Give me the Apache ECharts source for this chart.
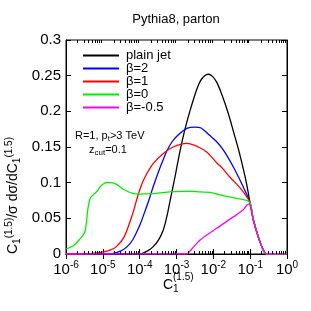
<!DOCTYPE html>
<html><head><meta charset="utf-8">
<script src="https://cdn.jsdelivr.net/npm/echarts@6/dist/echarts.min.js"></script>
<style>html,body{margin:0;padding:0;background:#fff}#c{width:311px;height:311px}</style>
</head><body><div id="c"></div>
<script>
var seriesNames = ['plain jet', '\u03b2=2', '\u03b2=1', '\u03b2=0', '\u03b2=-0.5'];
var seriesColors = ['#000000', '#0000ff', '#ff0000', '#00ee00', '#ff00ff'];
var xTicks = [1e-6, 1e-5, 1e-4, 1e-3, 1e-2, 1e-1, 1];
var yTicks = [0, 0.05, 0.1, 0.15, 0.2, 0.25, 0.3];

var plainJet = [[1e-6,0],[1e-4,0],[1.6e-4,0.004],[2.3e-4,0.010],[3.2e-4,0.019],[4.4e-4,0.034],[5.5e-4,0.053],[6.6e-4,0.073],[9.1e-4,0.108],[1.24e-3,0.144],[1.7e-3,0.175],[2.3e-3,0.200],[3.5e-3,0.230],[4.5e-3,0.243],[5.8e-3,0.250],[7.3e-3,0.252],[9.5e-3,0.249],[1.23e-2,0.241],[1.5e-2,0.231],[2.08e-2,0.211],[2.8e-2,0.190],[3.5e-2,0.172],[4.8e-2,0.147],[6.6e-2,0.118],[8.1e-2,0.097],[0.099,0.072],[0.122,0.048],[0.166,0.024],[0.227,0.0056],[0.28,0],[1,0]];
var beta2 = [[1e-6,0],[1.5e-5,0],[3e-5,0.004],[4.5e-5,0.010],[6.5e-5,0.020],[1.02e-4,0.041],[1.35e-4,0.058],[1.74e-4,0.074],[2.35e-4,0.095],[3.5e-4,0.120],[4.5e-4,0.134],[5.4e-4,0.144],[7.5e-4,0.157],[1.02e-3,0.165],[1.9e-3,0.176],[3.2e-3,0.178],[4.5e-3,0.177],[8.1e-3,0.166],[1.2e-2,0.158],[1.86e-2,0.146],[3.5e-2,0.122],[6.5e-2,0.094],[0.099,0.072],[0.122,0.048],[0.166,0.024],[0.227,0.0056],[0.28,0],[1,0]];
var beta1 = [[1e-6,0],[3e-6,0],[8e-6,0.002],[1.5e-5,0.005],[2.3e-5,0.010],[3.8e-5,0.024],[6.5e-5,0.057],[8.3e-5,0.076],[1.05e-4,0.093],[1.4e-4,0.108],[2.35e-4,0.127],[4.4e-4,0.141],[8.1e-4,0.150],[1.9e-3,0.155],[3.9e-3,0.150],[6.6e-3,0.143],[1.23e-2,0.128],[1.86e-2,0.119],[2.8e-2,0.108],[5.9e-2,0.090],[0.099,0.072],[0.122,0.048],[0.166,0.024],[0.227,0.0056],[0.28,0],[1,0]];
var beta0 = [[1e-6,0.007],[1.6e-6,0.012],[2.3e-6,0.020],[3.2e-6,0.030],[3.6e-6,0.045],[3.9e-6,0.062],[4.4e-6,0.076],[4.8e-6,0.080],[5.8e-6,0.084],[7e-6,0.088],[9e-6,0.096],[1.34e-5,0.1005],[1.7e-5,0.100],[2.3e-5,0.098],[3.8e-5,0.090],[6.4e-5,0.085],[1.02e-4,0.084],[2e-4,0.0845],[4e-4,0.086],[8.1e-4,0.0874],[2.3e-3,0.088],[4.4e-3,0.087],[8.1e-3,0.0865],[1.5e-2,0.083],[4.3e-2,0.078],[7.2e-2,0.0757],[0.099,0.072],[0.122,0.048],[0.166,0.024],[0.227,0.0056],[0.28,0],[1,0]];
var betaM05 = [[1e-6,0],[1.9e-3,0],[2.5e-3,0.006],[4.4e-3,0.0196],[1.23e-2,0.036],[3.5e-2,0.052],[6.5e-2,0.062],[0.089,0.070],[0.099,0.069],[0.122,0.048],[0.166,0.024],[0.227,0.0056],[0.28,0],[1,0]];

var allData = [plainJet, beta2, beta1, beta0, betaM05];

// minor tick positions of the log axis (2..9 x 10^n)
var minorTickValues = [];
for (var n = -6; n < 0; n++) {
  for (var k = 2; k <= 9; k++) minorTickValues.push(k * Math.pow(10, n));
}

var FONT = 'Liberation Sans';
var chart = echarts.init(document.getElementById('c'), null, {renderer: 'canvas'});

function expLabel(v) {
  var e = Math.round(Math.log(v) / Math.LN10);
  return '10{s|' + e + '}';
}

var series = allData.map(function (d, i) {
  return {
    name: seriesNames[i], type: 'line', data: d, showSymbol: false, symbol: 'none',
    smooth: 0.3, xAxisIndex: 0, yAxisIndex: 0, clip: true,
    lineStyle: {color: seriesColors[i], width: 1.3}, itemStyle: {color: seriesColors[i]},
    z: 2 + i
  };
});

series.push({
  type: 'custom', name: 'minorTicks', silent: true, clip: false, z: 20,
  xAxisIndex: 0, yAxisIndex: 0,
  data: minorTickValues.map(function (v) { return [v, yTicks[0]]; }),
  renderItem: function (params, api) {
    var v = api.value(0);
    var pb = api.coord([v, yTicks[0]]);
    var pt = api.coord([v, yTicks[yTicks.length - 1]]);
    var x = Math.round(pb[0]) + 0.5;
    return {type: 'group', children: [
      {type: 'line', shape: {x1: x, y1: pb[1], x2: x, y2: pb[1] - 3}, style: {stroke: '#000', lineWidth: 1}},
      {type: 'line', shape: {x1: x, y1: pt[1], x2: x, y2: pt[1] + 3}, style: {stroke: '#000', lineWidth: 1}}
    ]};
  }
});

var gridL = 66, gridT = 40, gridR = 24, gridB = 57;

var option = {
  animation: false,
  backgroundColor: '#fff',
  textStyle: {fontFamily: FONT},
  legend: {
    orient: 'vertical', left: 78, top: 44, itemWidth: 36, itemHeight: 2, itemGap: 0,
    icon: 'rect', data: seriesNames,
    textStyle: {fontFamily: FONT, fontSize: 13, color: '#000', lineHeight: 13, padding: [0,0,0,2]}
  },
  grid: {left: gridL, top: gridT, right: gridR, bottom: gridB, show: true, borderColor: '#000', borderWidth: 1, containLabel: false},
  xAxis: [{
    type: 'log', logBase: 10, min: xTicks[0], max: xTicks[xTicks.length - 1], position: 'bottom',
    axisLine: {show: true, lineStyle: {color: '#000', width: 1}},
    axisTick: {show: true, inside: true, length: 5, lineStyle: {color: '#000'}},
    minorTick: {show: false},
    splitLine: {show: false},
    axisLabel: {formatter: expLabel, color: '#000', fontFamily: FONT, fontSize: 15, margin: 6,
      rich: {s: {fontSize: 10, fontFamily: FONT, padding: [0, 0, 9, 0], color: '#000'}}}
  }, {
    type: 'log', logBase: 10, min: xTicks[0], max: xTicks[xTicks.length - 1], position: 'top',
    axisLine: {show: true, lineStyle: {color: '#000'}},
    axisTick: {show: true, inside: true, length: 5, lineStyle: {color: '#000'}},
    axisLabel: {show: false}, splitLine: {show: false}
  }],
  yAxis: [{
    type: 'value', min: yTicks[0], max: yTicks[yTicks.length - 1], interval: 0.05, position: 'left',
    axisLine: {show: true, lineStyle: {color: '#000'}},
    axisTick: {show: true, inside: true, length: 5, lineStyle: {color: '#000'}},
    splitLine: {show: false},
    axisLabel: {color: '#000', fontFamily: FONT, fontSize: 15, margin: 5}
  }, {
    type: 'value', min: yTicks[0], max: yTicks[yTicks.length - 1], interval: 0.05, position: 'right',
    axisLine: {show: true, lineStyle: {color: '#000'}},
    axisTick: {show: true, inside: true, length: 5, lineStyle: {color: '#000'}},
    splitLine: {show: false}, axisLabel: {show: false}
  }],
  graphic: [
    {type: 'text', x: 176, y: 13, style: {
      text: 'Pythia8, parton', font: '13px ' + FONT, fill: '#000', textAlign: 'center'}},
    {type: 'text', left: 75, top: 130, style: {
      text: 'R=1, p{sub|t}>3 TeV', font: '11px ' + FONT, fill: '#000',
      rich: {sub: {fontSize: 8, fontFamily: FONT, padding: [6, 0, 0, 0], fill: '#000'}}}},
    {type: 'text', left: 89, top: 144, style: {
      text: 'z{sub|cut}=0.1', font: '11px ' + FONT, fill: '#000',
      rich: {sub: {fontSize: 8, fontFamily: FONT, padding: [6, 0, 0, 0], fill: '#000'}}}},
    {type: 'text', x: 163, y: 276, style: {
      text: 'C{sub|1}', font: '14px ' + FONT, fill: '#000',
      rich: {sub: {fontSize: 10, fontFamily: FONT, padding: [8, 0, 0, 0], fill: '#000'}}}},
    {type: 'text', x: 173, y: 272, style: {
      text: '(1.5)', font: '10px ' + FONT, fill: '#000'}},
    {type: 'text', x: 4, y: 254, rotation: Math.PI / 2, style: {
      text: 'C{sub|1}{sup|(1.5)}/\u03c3 d\u03c3/dC{sub|1}{sup|(1.5)}', font: '14px ' + FONT, fill: '#000',
      rich: {sub: {fontSize: 10, fontFamily: FONT, padding: [8, 0, 0, 0], fill: '#000'},
             sup: {fontSize: 10, fontFamily: FONT, padding: [0, 0, 8, 0], fill: '#000'}}}}
  ],
  series: series
};
chart.setOption(option);
</script></body></html>
